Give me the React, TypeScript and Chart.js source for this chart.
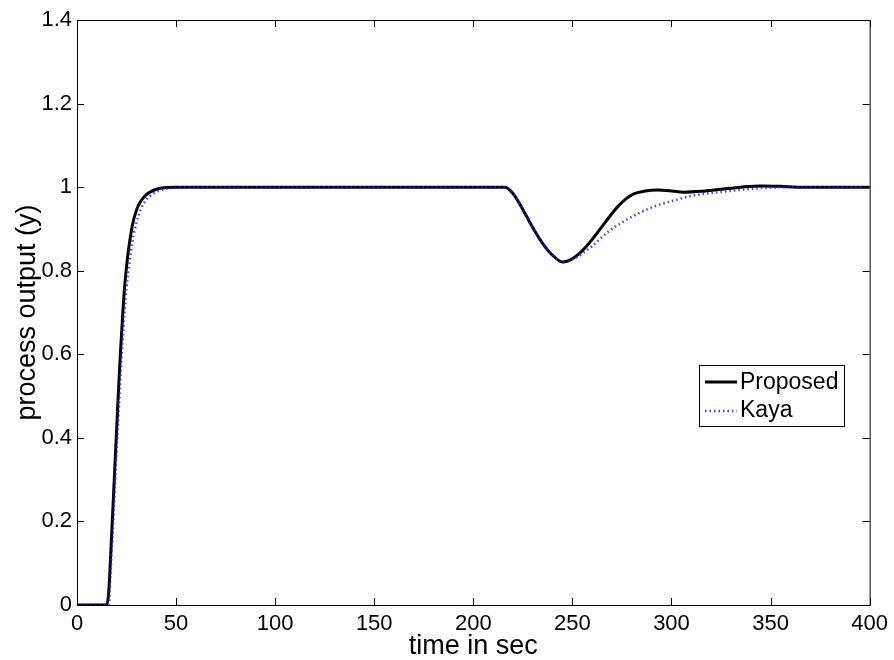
import React, { useEffect, useRef } from "react";
import { Chart, registerables } from "chart.js";

Chart.register(...registerables);

const proposedT = [0, 5, 10, 15, 16, 17, 18, 19, 20, 21, 22, 23, 24, 25, 26, 28, 30, 32, 35, 38, 40, 45, 50, 100, 150, 200, 216, 220, 224, 227, 231, 235, 240, 245, 249, 253, 257, 261, 265, 269, 273, 277, 281, 286, 293, 300, 306, 315, 325, 335, 345, 355, 365, 400];
const proposedY = [0, 0, 0, 0, 0.03, 0.12, 0.22, 0.32, 0.42, 0.52, 0.61, 0.69, 0.76, 0.81, 0.85, 0.91, 0.945, 0.965, 0.982, 0.991, 0.995, 0.999, 1.0, 1.0, 1.0, 1.0, 1.0, 0.985, 0.955, 0.929, 0.895, 0.865, 0.837, 0.821, 0.826, 0.839, 0.858, 0.881, 0.906, 0.931, 0.954, 0.972, 0.984, 0.99, 0.993, 0.991, 0.988, 0.99, 0.995, 1.0, 1.003, 1.002, 1.0, 1.0];

const kayaT = [0, 5, 10, 16, 17, 18, 19, 20, 21, 22, 23, 24, 25, 26, 28, 30, 32, 35, 38, 40, 45, 50, 55, 100, 150, 200, 216, 220, 224, 227, 231, 235, 240, 245, 250, 255, 260, 268.5, 277, 285, 292, 302, 310, 320, 330, 347, 360, 400];
const kayaY = [0, 0, 0, 0, 0.08, 0.17, 0.27, 0.37, 0.46, 0.55, 0.63, 0.7, 0.76, 0.8, 0.87, 0.915, 0.945, 0.97, 0.983, 0.989, 0.996, 0.999, 1.0, 1.0, 1.0, 1.0, 1.0, 0.985, 0.955, 0.929, 0.895, 0.865, 0.837, 0.82, 0.827, 0.841, 0.859, 0.895, 0.921, 0.941, 0.955, 0.969, 0.979, 0.986, 0.991, 0.998, 1.0, 1.0];

const xTicks = [0, 50, 100, 150, 200, 250, 300, 350, 400];
const yTicks = [0, 0.2, 0.4, 0.6, 0.8, 1, 1.2, 1.4];
const seriesNames = ["Proposed", "Kaya"];
const xTitle = "time in sec";
const yTitle = "process output (y)";

const FONT = "'Liberation Sans', Arial, sans-serif";
const BLUE = "rgba(30,30,255,0.85)";

const boxPlugin = {
  id: "matlabBox",
  afterDraw(chart: any) {
    const { ctx, chartArea: a, scales } = chart;
    ctx.save();
    ctx.strokeStyle = "#000";
    ctx.lineWidth = 1;
    ctx.strokeRect(a.left + 0.5, a.top + 0.5, a.right - a.left, a.bottom - a.top);
    const tl = 7;
    ctx.beginPath();
    for (const v of xTicks) {
      const x = Math.round(scales.x.getPixelForValue(v)) + 0.5;
      ctx.moveTo(x, a.bottom);
      ctx.lineTo(x, a.bottom - tl);
      ctx.moveTo(x, a.top);
      ctx.lineTo(x, a.top + tl);
    }
    for (const v of yTicks) {
      const y = Math.round(scales.y.getPixelForValue(v)) + 0.5;
      ctx.moveTo(a.left, y);
      ctx.lineTo(a.left + tl, y);
      ctx.moveTo(a.right, y);
      ctx.lineTo(a.right - tl, y);
    }
    ctx.stroke();

    // legend
    const lx = a.left + 622;
    const ly = a.top + 345;
    const lw = 145;
    const lh = 61;
    ctx.fillStyle = "#fff";
    ctx.fillRect(lx, ly, lw, lh);
    ctx.strokeRect(lx + 0.5, ly + 0.5, lw, lh);
    ctx.font = `23px ${FONT}`;
    ctx.textBaseline = "middle";
    ctx.fillStyle = "#000";
    ctx.lineWidth = 3;
    ctx.beginPath();
    ctx.moveTo(lx + 6, ly + 17);
    ctx.lineTo(lx + 38, ly + 17);
    ctx.stroke();
    ctx.fillText(seriesNames[0], lx + 41, ly + 18);
    ctx.strokeStyle = BLUE;
    ctx.lineWidth = 2.5;
    ctx.setLineDash([1.5, 3]);
    ctx.beginPath();
    ctx.moveTo(lx + 6, ly + 46);
    ctx.lineTo(lx + 38, ly + 46);
    ctx.stroke();
    ctx.setLineDash([]);
    ctx.fillText(seriesNames[1], lx + 41, ly + 46);
    ctx.restore();
  },
};

export default function App() {
  const ref = useRef<HTMLCanvasElement | null>(null);
  useEffect(() => {
    document.body.style.margin = "0";
    const chart = new Chart(ref.current as HTMLCanvasElement, {
      type: "line",
      data: {
        datasets: [
          {
            label: seriesNames[0],
            data: proposedT.map((t, i) => ({ x: t, y: proposedY[i] })),
            borderColor: "#000",
            borderWidth: 3,
            pointRadius: 0,
            cubicInterpolationMode: "monotone",
            order: 1,
          },
          {
            label: seriesNames[1],
            data: kayaT.map((t, i) => ({ x: t, y: kayaY[i] })),
            borderColor: BLUE,
            borderWidth: 2.5,
            borderDash: [1.5, 3],
            pointRadius: 0,
            cubicInterpolationMode: "monotone",
            order: 0,
          },
        ],
      },
      options: {
        animation: false,
        responsive: false,
        layout: { padding: { top: 20, right: 23, left: 0, bottom: 0 } },
        plugins: { legend: { display: false }, tooltip: { enabled: false } },
        scales: {
          x: {
            type: "linear",
            min: 0,
            max: 400,
            grid: { display: false, drawTicks: false },
            border: { display: false },
            afterBuildTicks: (s: any) => {
              s.ticks = xTicks.map((v) => ({ value: v }));
            },
            afterFit: (s: any) => {
              s.height = 55;
            },
            ticks: { color: "#000", padding: 6, font: { family: FONT, size: 22 }, maxRotation: 0 },
            title: { display: true, text: xTitle, color: "#000", font: { family: FONT, size: 27 }, padding: { top: 0, bottom: -3 } },
          },
          y: {
            type: "linear",
            min: 0,
            max: 1.4,
            grid: { display: false, drawTicks: false },
            border: { display: false },
            afterBuildTicks: (s: any) => {
              s.ticks = yTicks.map((v) => ({ value: v }));
            },
            afterFit: (s: any) => {
              s.width = 77;
            },
            ticks: { color: "#000", padding: 5, font: { family: FONT, size: 22 }, callback: (v: any) => String(Math.round(v * 10) / 10) },
            title: { display: true, text: yTitle, color: "#000", font: { family: FONT, size: 27 }, padding: { top: 11, bottom: 0 } },
          },
        },
      },
      plugins: [boxPlugin],
    } as any);
    return () => chart.destroy();
  }, []);
  return (
    <div style={{ position: "absolute", left: 0, top: 0, width: 894, height: 660, background: "#fff" }}>
      <canvas ref={ref} width={894} height={660} style={{ width: 894, height: 660, display: "block" }} />
    </div>
  );
}
